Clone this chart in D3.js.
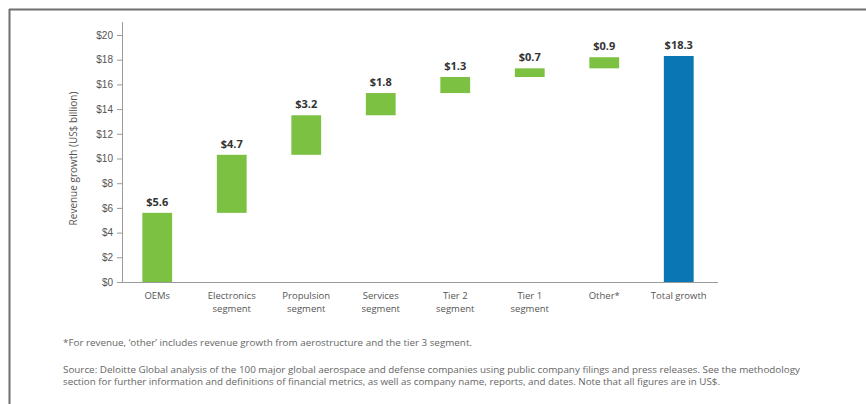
<!DOCTYPE html>
<html>
<head>
<meta charset="utf-8">
<script src="https://cdn.jsdelivr.net/npm/d3@7"></script>
<style>
  html, body { margin: 0; padding: 0; background: #fff; }
  svg { display: block; font-family: "Open Sans", "Noto Sans", sans-serif; }
</style>
</head>
<body>
<svg id="chart" width="866" height="404"></svg>
<script>
// Revenue growth by segment (US$ billion), waterfall
const categories = [
  ["OEMs"],
  ["Electronics", "segment"],
  ["Propulsion", "segment"],
  ["Services", "segment"],
  ["Tier 2", "segment"],
  ["Tier 1", "segment"],
  ["Other*"],
  ["Total growth"]
];
const increments = [5.6, 4.7, 3.2, 1.8, 1.3, 0.7, 0.9];
const totalGrowth = 18.3;
const yTicks = [0, 2, 4, 6, 8, 10, 12, 14, 16, 18, 20];
const footnote = "*For revenue, \u2018other\u2019 includes revenue growth from aerostructure and the tier 3 segment.";
const sourceLines = [
  "Source: Deloitte Global analysis of the 100 major global aerospace and defense companies using public company filings and press releases. See the methodology",
  "section for further information and definitions of financial metrics, as well as company name, reports, and dates. Note that all figures are in US$."
];

// Build waterfall segments from the increments
let running = 0;
const bars = increments.map((v, i) => {
  const b = { key: i, start: running, end: running + v, value: v, total: false };
  running += v;
  return b;
});
bars.push({ key: increments.length, start: 0, end: totalGrowth, value: totalGrowth, total: true });

const svg = d3.select("#chart");

// Frame lines (top and left)
svg.append("line").attr("x1", 9).attr("x2", 866).attr("y1", 9.5).attr("y2", 9.5)
  .attr("stroke", "#6f6f6f").attr("stroke-width", 2);
svg.append("line").attr("x1", 9.5).attr("x2", 9.5).attr("y1", 9).attr("y2", 404)
  .attr("stroke", "#6f6f6f").attr("stroke-width", 2);

const left = 122, right = 718;
const y = d3.scaleLinear().domain([0, 20]).range([282, 35]);
const x = d3.scaleBand().domain(d3.range(categories.length))
  .range([left - 2, right - 2]).paddingInner(0.6).paddingOuter(0.3);

// Y axis
const yAxis = d3.axisLeft(y).tickValues(yTicks).tickSize(5).tickPadding(4)
  .tickFormat(d => "$" + d);
const gy = svg.append("g").attr("transform", `translate(${left},0)`).call(yAxis);
gy.select(".domain").remove();
gy.selectAll(".tick line").attr("stroke", "#9a9a9a");
gy.selectAll(".tick text").attr("fill", "#555").attr("font-size", 10);
svg.append("line").attr("x1", left + 0.5).attr("x2", left + 0.5)
  .attr("y1", 22).attr("y2", y(0)).attr("stroke", "#9a9a9a");

// Baseline
svg.append("line").attr("x1", left).attr("x2", right)
  .attr("y1", y(0) + 0.5).attr("y2", y(0) + 0.5).attr("stroke", "#9a9a9a");

// Y axis title
svg.append("text")
  .attr("transform", `translate(77,${(y(0) + y(20)) / 2}) rotate(-90)`)
  .attr("text-anchor", "middle").attr("fill", "#555").attr("font-size", 10)
  .text("Revenue growth (US$ billion)");

// Bars
svg.append("g").selectAll("rect").data(bars).join("rect")
  .attr("x", d => x(d.key))
  .attr("width", x.bandwidth())
  .attr("y", d => y(d.end))
  .attr("height", d => y(d.start) - y(d.end))
  .attr("fill", d => d.total ? "#0a76b4" : "#7cc142");

// Value labels
svg.append("g").selectAll("text").data(bars).join("text")
  .attr("x", d => x(d.key) + x.bandwidth() / 2)
  .attr("y", d => y(d.end) - 7)
  .attr("text-anchor", "middle")
  .attr("font-size", 11).attr("font-weight", 700).attr("fill", "#333")
  .text(d => "$" + d.value.toFixed(1));

// Category labels, one text element per line
const catLines = categories.flatMap((lines, i) => lines.map((t, j) => ({ i, j, t })));
svg.append("g").selectAll("text").data(catLines).join("text")
  .attr("x", d => x(d.i) + x.bandwidth() / 2)
  .attr("y", d => 299 + d.j * 13)
  .attr("text-anchor", "middle").attr("font-size", 9.5).attr("fill", "#555")
  .text(d => d.t);

// Notes
svg.append("text").attr("x", 63).attr("y", 346)
  .attr("font-size", 8.8).attr("fill", "#666")
  .attr("textLength", 409).attr("lengthAdjust", "spacingAndGlyphs")
  .text(footnote);
const srcWidths = [737, 657];
svg.append("g").selectAll("text").data(sourceLines).join("text")
  .attr("x", 63).attr("y", (d, i) => 373 + i * 12)
  .attr("font-size", 8.8).attr("fill", "#666")
  .attr("textLength", (d, i) => srcWidths[i]).attr("lengthAdjust", "spacingAndGlyphs")
  .text(d => d);
</script>
</body>
</html>
